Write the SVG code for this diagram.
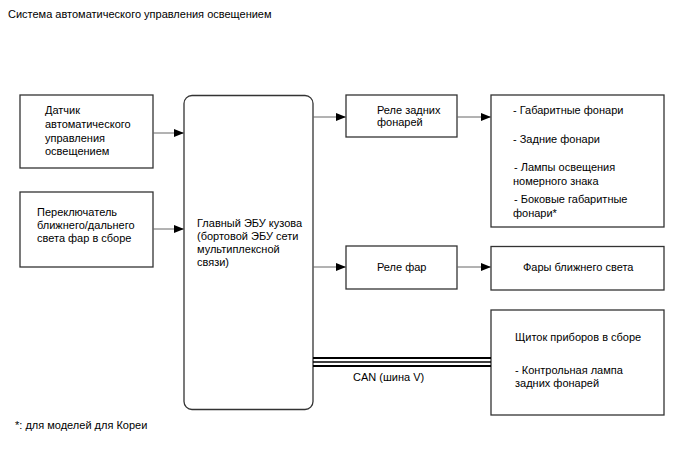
<svg xmlns="http://www.w3.org/2000/svg" width="688" height="463" viewBox="0 0 688 463">
<style>
text{font-family:"Liberation Sans",Arial,sans-serif;font-size:11px;fill:#000}
.box{fill:#fff;stroke:#333;stroke-width:1.3}
.ln{stroke:#666;stroke-width:1;fill:none}
.can{stroke:#000;fill:none}
</style>
<defs>
<marker id="ar" viewBox="0 0 10 8" refX="10" refY="4" markerWidth="10" markerHeight="8" markerUnits="userSpaceOnUse" orient="auto">
<path d="M0,0 L10,4 L0,8 Z" fill="#000"/>
</marker>
</defs>
<rect width="688" height="463" fill="#fff"/>
<text x="8" y="18">Система автоматического управления освещением</text>
<g id="sensor">
<rect class="box" x="20" y="95" width="133" height="73"/>
<text x="45" y="114">Датчик</text>
<text x="45" y="128">автоматического</text>
<text x="45" y="142">управления</text>
<text x="45" y="155">освещением</text>
</g>
<g id="switch">
<rect class="box" x="20" y="192" width="133" height="75"/>
<text x="37" y="216">Переключатель</text>
<text x="37" y="229">ближнего/дальнего</text>
<text x="37" y="242">света фар в сборе</text>
</g>
<g id="ecu">
<rect class="box" x="184" y="95.5" width="129" height="314" rx="8" ry="8"/>
<text x="197" y="227">Главный ЭБУ кузова</text>
<text x="197" y="240">(бортовой ЭБУ сети</text>
<text x="197" y="253">мультиплексной</text>
<text x="197" y="266">связи)</text>
</g>
<g id="tail-relay">
<rect class="box" x="346" y="95" width="111" height="42"/>
<text x="377" y="114">Реле задних</text>
<text x="377" y="126">фонарей</text>
</g>
<g id="tail-lamps">
<rect class="box" x="491" y="95" width="173" height="132"/>
<text x="513" y="114">- Габаритные фонари</text>
<text x="513" y="143">- Задние фонари</text>
<text x="514" y="171">- Лампы освещения</text>
<text x="513" y="185">номерного знака</text>
<text x="514" y="203">- Боковые габаритные</text>
<text x="513" y="217">фонари*</text>
</g>
<g id="head-relay">
<rect class="box" x="346" y="246" width="111" height="43"/>
<text x="377" y="271">Реле фар</text>
</g>
<g id="low-beam">
<rect class="box" x="491" y="246.5" width="173" height="43.5"/>
<text x="523" y="271">Фары ближнего света</text>
</g>
<g id="cluster">
<rect class="box" x="491" y="310" width="173" height="105"/>
<text x="515" y="341">Щиток приборов в сборе</text>
<text x="515" y="374">- Контрольная лампа</text>
<text x="515" y="387">задних фонарей</text>
</g>
<g id="connectors">
<line class="ln" x1="153" y1="133" x2="184" y2="133" marker-end="url(#ar)"/>
<line class="ln" x1="153" y1="229" x2="184" y2="229" marker-end="url(#ar)"/>
<line class="ln" x1="313" y1="117" x2="346" y2="117" marker-end="url(#ar)"/>
<line class="ln" x1="457" y1="117" x2="491" y2="117" marker-end="url(#ar)"/>
<line class="ln" x1="313" y1="267" x2="346" y2="267" marker-end="url(#ar)"/>
<line class="ln" x1="457" y1="267" x2="491" y2="267" marker-end="url(#ar)"/>
<line class="can" x1="313" y1="358" x2="491" y2="358" stroke-width="2"/>
<line class="can" x1="313" y1="362" x2="491" y2="362" stroke-width="1.3"/>
<line class="can" x1="313" y1="366" x2="491" y2="366" stroke-width="2"/>
<text x="353" y="381">CAN (шина V)</text>
</g>
<text x="15" y="429">*: для моделей для Кореи</text>
</svg>
